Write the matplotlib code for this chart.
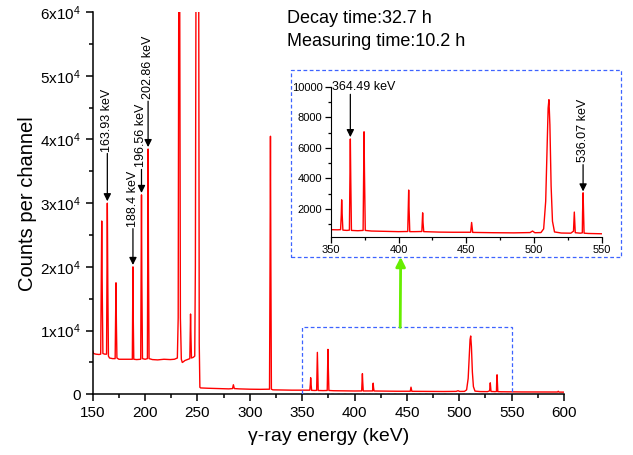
import matplotlib
matplotlib.use("Agg")
import matplotlib.pyplot as plt
from matplotlib.patches import Rectangle
from matplotlib.ticker import MultipleLocator, FuncFormatter

plt.rcParams["font.family"] = ["Liberation Sans", "DejaVu Sans"]
plt.rcParams["mathtext.default"] = "regular"

# spectrum (energy keV, counts per channel)
energy = [
    150.0, 150.8, 153.0, 156.0, 157.6, 158.1, 158.6, 159.1, 159.7, 161.5,
    163.2, 163.5, 163.93, 164.4, 165.0, 166.0, 169.0, 171.4, 171.8, 172.2,
    172.6, 173.1, 175.0, 180.0, 185.0, 187.8, 188.1, 188.4, 188.7, 189.2,
    192.0, 195.8, 196.2, 196.56, 196.9, 197.5, 200.0, 202.2, 202.5, 202.86,
    203.2, 203.8, 207.0, 212.0, 218.0, 224.0, 228.0, 230.8, 231.6, 232.1,
    232.6, 233.1, 233.7, 234.6, 235.5, 236.5, 238.0, 241.0, 242.7, 243.0,
    243.4, 243.8, 244.3, 246.0, 247.4, 248.0, 248.6, 249.9, 251.2, 251.7,
    252.3, 253.0, 260.0, 270.0, 280.0, 283.5, 284.3, 285.2, 290.0, 300.0,
    310.0, 318.8, 319.3, 319.7, 320.1, 320.6, 322.0, 330.0, 340.0, 350.0,
    355.0, 357.3, 357.8, 358.1, 358.5, 359.0, 362.0, 363.8, 364.2, 364.49,
    364.8, 365.3, 370.0, 373.9, 374.3, 374.6, 374.9, 375.5, 380.0, 390.0,
    400.0, 406.8, 407.2, 407.5, 407.8, 408.3, 412.0, 417.2, 417.5, 417.8,
    418.1, 418.6, 430.0, 440.0, 453.2, 453.6, 453.9, 454.2, 454.7, 470.0,
    485.0, 497.0, 498.8, 500.5, 505.0, 507.0, 508.5, 509.5, 510.3, 510.9,
    511.6, 512.5, 513.5, 515.0, 520.0, 527.0, 529.0, 529.3, 529.6, 529.9,
    530.3, 534.0, 535.5, 535.7, 536.07, 536.4, 536.8, 540.0, 550.0, 560.0,
    580.0, 593.8, 594.5, 595.2, 600.0,
]
counts = [
    6800, 6400, 6300, 6250, 6300, 16000, 27200, 16000, 6400, 6300,
    6300, 17000, 30000, 17000, 6000, 5700, 5600, 5600, 11000, 17500,
    11000, 5700, 5500, 5500, 5500, 5500, 12000, 20000, 12000, 5500,
    5450, 5500, 18000, 31300, 18000, 5600, 5500, 5600, 22000, 38500,
    22000, 5600, 5450, 5400, 5500, 5450, 5500, 5700, 12000, 60000,
    120000, 60000, 12000, 5500, 5000, 5100, 5300, 5500, 5600, 9000,
    12600, 9000, 5700, 5800, 6000, 20000, 65000, 150000, 65000, 8000,
    1100, 1000, 950, 900, 850, 900, 1500, 900, 850, 800,
    780, 800, 20000, 40500, 20000, 800, 700, 680, 650, 650,
    640, 650, 1600, 2600, 1600, 620, 600, 620, 4000, 6580,
    4000, 600, 580, 600, 4500, 7050, 4500, 600, 560, 540,
    520, 530, 2000, 3240, 2000, 520, 520, 530, 1100, 1750,
    1100, 520, 490, 480, 480, 850, 1120, 850, 470, 450,
    440, 460, 560, 450, 460, 700, 2500, 6000, 8600, 9150,
    7500, 3500, 1200, 500, 430, 420, 550, 1200, 1800, 1200,
    450, 420, 440, 1800, 3060, 1800, 420, 400, 380, 370,
    360, 360, 480, 350, 340,
]

# labelled peaks: (energy, arrow start, arrow end, label)
main_marks = [
    (163.93, 37800, 30300, "163.93 keV"),
    (188.4, 26000, 20300, "188.4 keV"),
    (196.56, 35300, 31600, "196.56 keV"),
    (202.86, 46000, 38800, "202.86 keV"),
]

RED = "#ff0000"
BLUE = "#3d63ff"


def ytick_fmt(v, pos):
    if v == 0:
        return "0"
    return "%dx10$^{4}$" % round(v / 1e4)


def main():
    fig = plt.figure(figsize=(6.33, 4.55), dpi=100)
    ax = fig.add_axes([0.1465, 0.1334, 0.7445, 0.8402])
    ax.plot(energy, counts, color=RED, lw=1.0)
    ax.set_xlim(150, 600)
    ax.set_ylim(0, 60000)
    ax.spines["top"].set_visible(False)
    ax.spines["right"].set_visible(False)
    for s in ("left", "bottom"):
        ax.spines[s].set_linewidth(1.1)
    ax.xaxis.set_major_locator(MultipleLocator(50))
    ax.xaxis.set_minor_locator(MultipleLocator(25))
    ax.yaxis.set_major_locator(MultipleLocator(10000))
    ax.yaxis.set_minor_locator(MultipleLocator(5000))
    ax.yaxis.set_major_formatter(FuncFormatter(ytick_fmt))
    ax.tick_params(which="major", direction="out", length=5, width=1.1, labelsize=11)
    ax.tick_params(which="minor", direction="out", length=3, width=1.1)
    ax.set_xlabel("γ-ray energy (keV)", fontsize=14, labelpad=6)
    ax.set_ylabel("Counts per channel", fontsize=14.5, labelpad=2)

    for x, y0, y1, lab in main_marks:
        ax.annotate("", xy=(x, y1), xytext=(x, y0),
                    arrowprops=dict(arrowstyle="-|>", color="k", lw=0.9,
                                    mutation_scale=11, shrinkA=0, shrinkB=0))
        ax.text(x, y0 + 300, lab, rotation=90, ha="center", va="bottom", fontsize=9)

    # zoom region in the main plot
    ax.add_patch(Rectangle((350, 0), 200, 10500, fill=False, ec=BLUE, lw=0.9,
                           ls=(0, (3, 2)), zorder=3))

    fig.text(0.4534, 0.960, "Decay time:32.7 h", fontsize=13, va="center")
    fig.text(0.4534, 0.908, "Measuring time:10.2 h", fontsize=13, va="center")

    # inset
    ins = fig.add_axes([0.5224, 0.4798, 0.4286, 0.3297])
    ins.plot(energy, counts, color=RED, lw=1.0)
    ins.set_xlim(350, 550)
    ins.set_ylim(190, 10000)
    ins.spines["top"].set_visible(False)
    ins.spines["right"].set_visible(False)
    ins.xaxis.set_major_locator(MultipleLocator(50))
    ins.xaxis.set_minor_locator(MultipleLocator(25))
    ins.yaxis.set_major_locator(MultipleLocator(2000))
    ins.yaxis.set_minor_locator(MultipleLocator(1000))
    ins.tick_params(which="major", direction="out", length=4, width=0.9, labelsize=8, pad=2)
    ins.tick_params(which="minor", direction="out", length=2.5, width=0.9)
    ins.set_yticks([2000, 4000, 6000, 8000, 10000])
    ins.annotate("", xy=(364.49, 6700), xytext=(364.49, 9500),
                 arrowprops=dict(arrowstyle="-|>", color="k", lw=0.9,
                                 mutation_scale=11, shrinkA=0, shrinkB=0))
    ins.text(351.3, 9950, "364.49 keV", ha="left", va="center", fontsize=9)
    ins.annotate("", xy=(536.07, 3150), xytext=(536.07, 4900),
                 arrowprops=dict(arrowstyle="-|>", color="k", lw=0.9,
                                 mutation_scale=11, shrinkA=0, shrinkB=0))
    ins.text(536.07, 5050, "536.07 keV", rotation=90, ha="center", va="bottom", fontsize=9)

    fig.patches.append(Rectangle((0.4597, 0.4352), 0.5213, 0.411, transform=fig.transFigure,
                                 fill=False, ec=BLUE, lw=0.9, ls=(0, (3, 2)), zorder=5))

    # green arrow from the zoom box up to the inset
    ax.annotate("", xy=(0.633, 0.4352), xycoords="figure fraction",
                xytext=(443.6, 10500), textcoords="data",
                arrowprops=dict(arrowstyle="-|>", color="#66ee00", lw=2,
                                mutation_scale=14, shrinkA=0, shrinkB=0))

    fig.savefig("out.png", dpi=100)


if __name__ == "__main__":
    main()
